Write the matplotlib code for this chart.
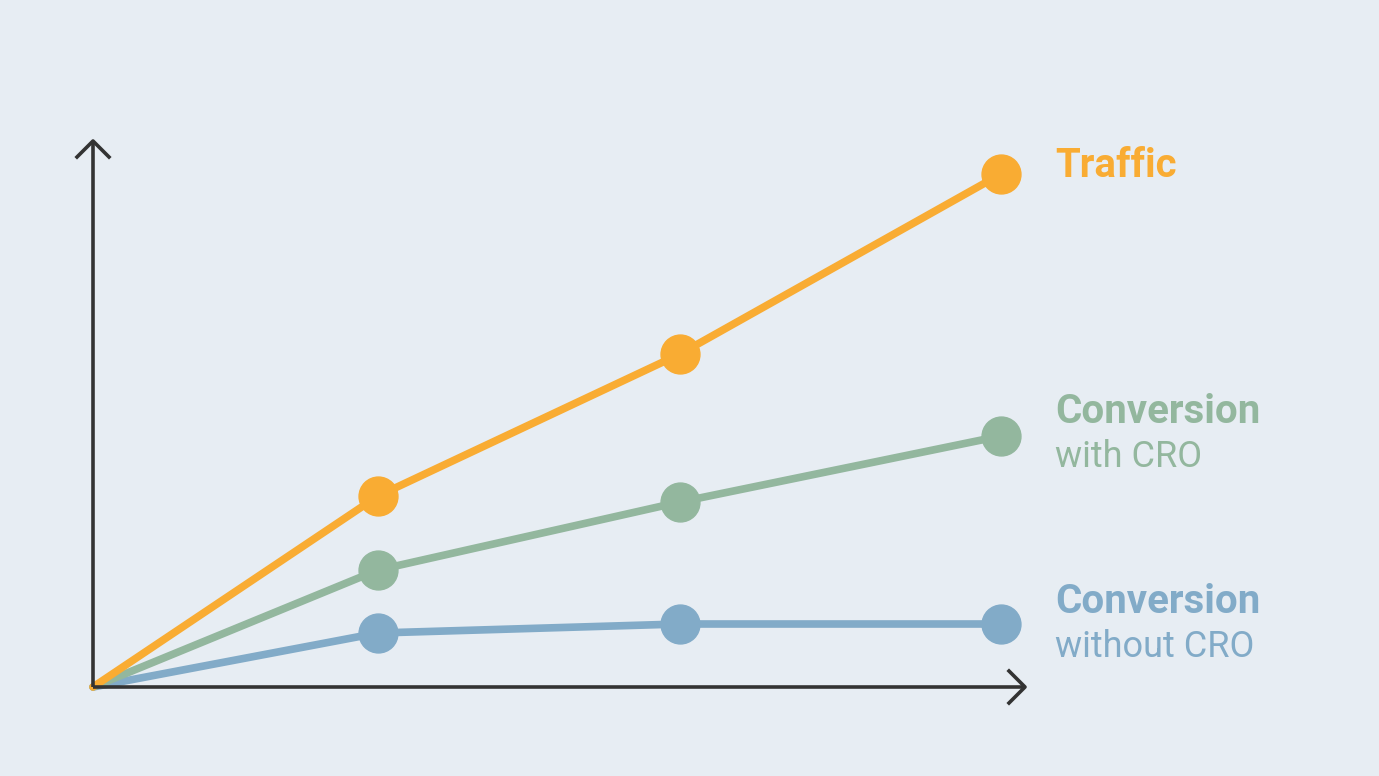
import matplotlib
matplotlib.use("Agg")
import matplotlib.pyplot as plt

periods = [0, 285, 587, 908]
traffic = [0, 191, 333, 513]
with_cro = [0, 117, 185, 251]
without_cro = [0, 54, 63, 63]

bg = "#E7EDF3"
c_tr, c_gr, c_bl = "#F9AC33", "#93B79E", "#82ABC8"
ax_c = "#333333"

fig = plt.figure(figsize=(13.79, 7.76), dpi=100, facecolor=bg)
ax = fig.add_axes([0, 0, 1, 1], facecolor=bg)
ax.set_xlim(-93, 1379 - 93)
ax.set_ylim(-89, 687)
ax.axis("off")

for ys, c in [(without_cro, c_bl), (with_cro, c_gr), (traffic, c_tr)]:
    ax.plot(periods, ys, color=c, lw=5.5, solid_capstyle="round", zorder=2)
    ax.plot(periods[1:], ys[1:], "o", color=c, ms=28, zorder=3)

# axes with chevron arrows
ax.plot([0, 932], [0, 0], color=ax_c, lw=2.6, zorder=4, solid_capstyle="butt")
ax.plot([0, 0], [0, 546], color=ax_c, lw=2.6, zorder=4, solid_capstyle="butt")
ax.plot([916, 932, 916], [16, 0, -16], color=ax_c, lw=2.6, zorder=4)
ax.plot([-16, 0, 16], [530, 546, 530], color=ax_c, lw=2.6, zorder=4)

fam = ["Roboto", "DejaVu Sans"]
tx = 962
ax.text(tx, 521, "Traffic", color=c_tr, fontsize=29, fontweight="bold", family=fam, va="center")
ax.text(tx, 275, "Conversion", color=c_gr, fontsize=29, fontweight="bold", family=fam, va="center")
ax.text(tx, 230, "with CRO", color=c_gr, fontsize=26, family=fam, va="center")
ax.text(tx, 85, "Conversion", color=c_bl, fontsize=29, fontweight="bold", family=fam, va="center")
ax.text(tx, 40, "without CRO", color=c_bl, fontsize=26, family=fam, va="center")

fig.savefig("out.png", dpi=100, facecolor=bg)
